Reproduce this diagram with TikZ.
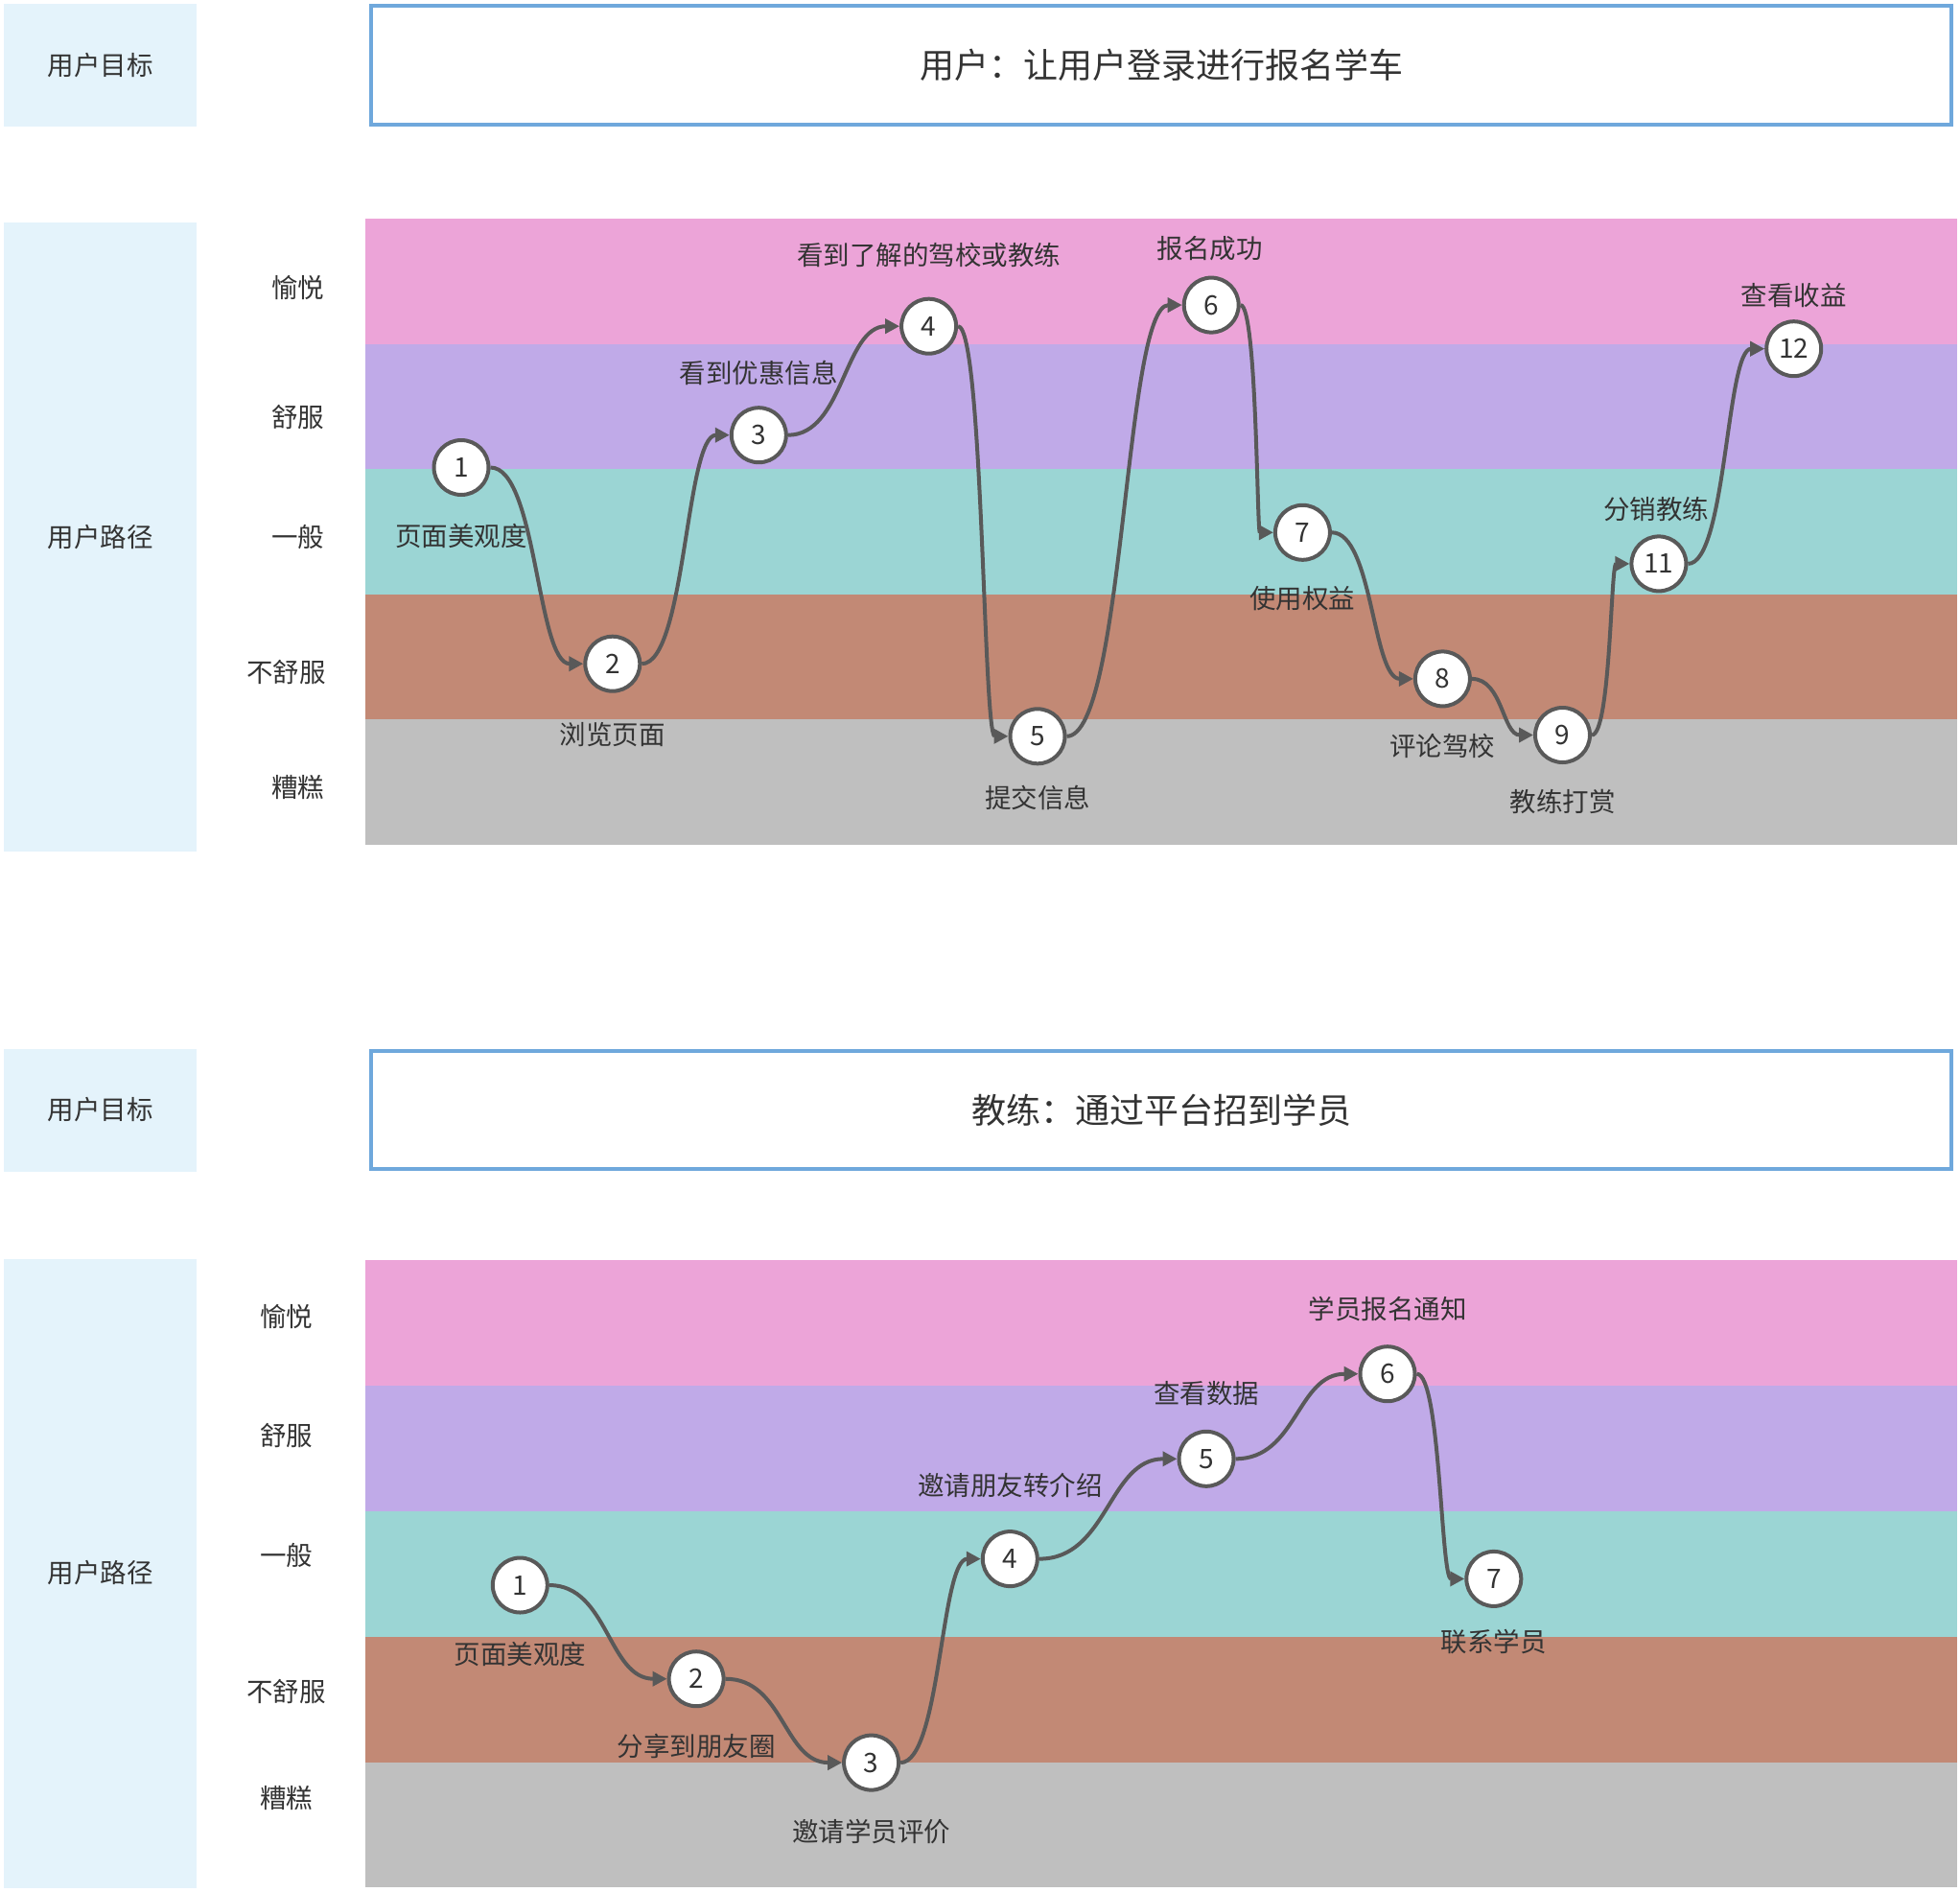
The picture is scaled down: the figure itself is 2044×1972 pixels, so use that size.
\documentclass[tikz,border=0pt]{standalone}
\usepackage{fontspec}
\setmainfont{Noto Sans CJK SC}
\usetikzlibrary{arrows.meta,calc}
\definecolor{cpink}{HTML}{ECA4D8}
\definecolor{cpurple}{HTML}{C0AAE8}
\definecolor{cteal}{HTML}{9BD5D4}
\definecolor{cbrown}{HTML}{C28975}
\definecolor{cgrey}{HTML}{BFBFBF}
\definecolor{sidebl}{HTML}{E4F3FB}
\definecolor{titlebl}{HTML}{6FA8DC}
\definecolor{txt}{HTML}{333333}
\definecolor{lc}{HTML}{595959}
\tikzset{
  sidebox/.style={fill=sidebl, draw=none, text=txt, inner sep=0pt, font=\fontsize{27.5}{30}\selectfont},
  titlebox/.style={draw=titlebl, line width=4pt, fill=white, text=txt, inner sep=0pt, font=\fontsize{36}{40}\selectfont},
  lbl/.style={text=txt, inner sep=0pt, font=\fontsize{27.5}{30}\selectfont},
  stage/.style={circle, draw=lc, line width=4pt, fill=white, minimum size=57pt, inner sep=0pt, text=txt, font=\fontsize{28}{30}\selectfont},
  conn/.style={draw=lc, line width=4pt, -{Triangle[length=15pt,width=15pt]}},
}
\newcommand\jlink[2]{\draw[conn] let \p1=(#1.east), \p2=(#2.west), \n1={0.5*(\x2-\x1)} in (\p1) .. controls +(\n1,0) and +(-\n1,0) .. (\p2);}
\begin{document}
\begin{tikzpicture}[x=1pt,y=-1pt]
\useasboundingbox (0,0) rectangle (2044,1972);
% ================= upper section =================
\node[sidebox, minimum width=201pt, minimum height=128pt] (goalA) at (104.5,68) {用户目标};
\node[titlebox, minimum width=1648pt, minimum height=124pt] (titleA) at (1211,68) {用户：让用户登录进行报名学车};
\node[sidebox, minimum width=201pt, minimum height=656pt] (pathA) at (104.5,560) {用户路径};
\fill[cpink]   (381,228)   rectangle (2041,358.6);
\fill[cpurple] (381,358.6) rectangle (2041,489.2);
\fill[cteal]   (381,489.2) rectangle (2041,619.8);
\fill[cbrown]  (381,619.8) rectangle (2041,750.4);
\fill[cgrey]   (381,750.4) rectangle (2041,881);
\node[lbl] (rA1) at (310.9,299.8) {愉悦};
\node[lbl] (rA2) at (310.9,435.4) {舒服};
\node[lbl] (rA3) at (310.9,560.5) {一般};
\node[lbl] (rA4) at (298.5,701.3) {不舒服};
\node[lbl] (rA5) at (310.9,821.3) {糟糕};
% stages
\node[stage] (a1) at (481,487.5) {1};
\node[stage] (a2) at (638.8,692.2) {2};
\node[stage] (a3) at (791.3,453.7) {3};
\node[stage] (a4) at (968.6,340.2) {4};
\node[stage] (a5) at (1082,767.8) {5};
\node[stage] (a6) at (1263.2,318.1) {6};
\node[stage] (a7) at (1358.4,555.3) {7};
\node[stage] (a8) at (1504.4,707.9) {8};
\node[stage] (a9) at (1629.5,766.5) {9};
\node[stage] (a11) at (1729.9,587.9) {11};
\node[stage] (a12) at (1870.7,363.7) {12};
% stage labels
\node[lbl] (la1) at (481,559.2) {页面美观度};
\node[lbl] (la2) at (638.8,766.5) {浏览页面};
\node[lbl] (la3) at (791.3,388.5) {看到优惠信息};
\node[lbl] (la4) at (968.6,265.9) {看到了解的驾校或教练};
\node[lbl] (la5) at (1082,831.7) {提交信息};
\node[lbl] (la6) at (1261.9,259.4) {报名成功};
\node[lbl] (la7) at (1358.4,624.4) {使用权益};
\node[lbl] (la8) at (1504.4,778.2) {评论驾校};
\node[lbl] (la9) at (1629.5,835.6) {教练打赏};
\node[lbl] (la11) at (1727.3,530.6) {分销教练};
\node[lbl] (la12) at (1870.7,307.6) {查看收益};
% connectors
\jlink{a1}{a2}
\jlink{a2}{a3}
\jlink{a3}{a4}
\jlink{a4}{a5}
\jlink{a5}{a6}
\jlink{a6}{a7}
\jlink{a7}{a8}
\jlink{a8}{a9}
\jlink{a9}{a11}
\jlink{a11}{a12}
% ================= lower section =================
\node[sidebox, minimum width=201pt, minimum height=128pt] (goalB) at (104.5,1157.5) {用户目标};
\node[titlebox, minimum width=1648pt, minimum height=123pt] (titleB) at (1211,1157.5) {教练：通过平台招到学员};
\node[sidebox, minimum width=201pt, minimum height=656pt] (pathB) at (104.5,1640.5) {用户路径};
\fill[cpink]   (381,1314)   rectangle (2041,1444.9);
\fill[cpurple] (381,1444.9) rectangle (2041,1575.8);
\fill[cteal]   (381,1575.8) rectangle (2041,1706.6);
\fill[cbrown]  (381,1706.6) rectangle (2041,1837.5);
\fill[cgrey]   (381,1837.5) rectangle (2041,1968.4);
\node[lbl] (rB1) at (298.5,1372.7) {愉悦};
\node[lbl] (rB2) at (298.5,1496.5) {舒服};
\node[lbl] (rB3) at (298.5,1621.7) {一般};
\node[lbl] (rB4) at (298.5,1763.8) {不舒服};
\node[lbl] (rB5) at (298.5,1874.6) {糟糕};
\node[stage] (b1) at (542.3,1653) {1};
\node[stage] (b2) at (726.1,1750.7) {2};
\node[stage] (b3) at (908.6,1838.1) {3};
\node[stage] (b4) at (1053.3,1625.6) {4};
\node[stage] (b5) at (1258,1521.3) {5};
\node[stage] (b6) at (1447,1432.7) {6};
\node[stage] (b7) at (1557.8,1646.4) {7};
\node[lbl] (lb1) at (542.3,1724.6) {页面美观度};
\node[lbl] (lb2) at (726.1,1821.1) {分享到朋友圈};
\node[lbl] (lb3) at (908.6,1909.8) {邀请学员评价};
\node[lbl] (lb4) at (1053.3,1548.7) {邀请朋友转介绍};
\node[lbl] (lb5) at (1258,1453.5) {查看数据};
\node[lbl] (lb6) at (1447,1364.9) {学员报名通知};
\node[lbl] (lb7) at (1557.8,1711.6) {联系学员};
\jlink{b1}{b2}
\jlink{b2}{b3}
\jlink{b3}{b4}
\jlink{b4}{b5}
\jlink{b5}{b6}
\jlink{b6}{b7}
\end{tikzpicture}
\end{document}
